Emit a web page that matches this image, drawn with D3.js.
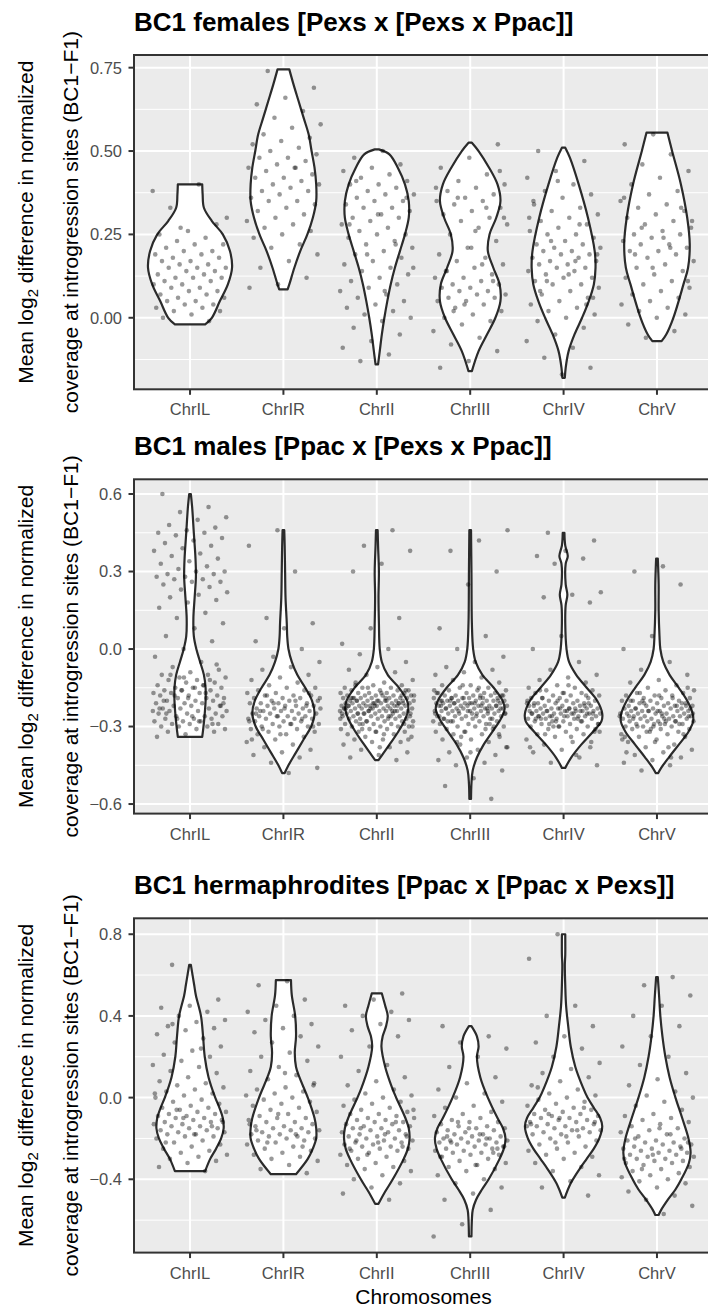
<!DOCTYPE html>
<html>
<head>
<meta charset="utf-8">
<script src="https://cdn.jsdelivr.net/npm/d3@7"></script>
<style>
  body { margin: 0; background: #fff; }
  svg { display: block; }
  text { font-family: "Liberation Sans", Arial, Helvetica, sans-serif; }
</style>
</head>
<body>
<svg id="chart" width="708" height="1309"></svg>
<script>
// ---- categories, titles and axis settings ----
const chromosomes = ["ChrIL", "ChrIR", "ChrII", "ChrIII", "ChrIV", "ChrV"];
const panelTitles = [
  "BC1 females [Pexs x [Pexs x Ppac]]",
  "BC1 males [Ppac x [Pexs x Ppac]]",
  "BC1 hermaphrodites [Ppac x [Ppac x Pexs]]"
];
const yLimits = [[-0.2145, 0.788], [-0.637, 0.657], [-0.759, 0.878]];
const yTicks = [[0, 0.25, 0.5, 0.75], [-0.6, -0.3, 0, 0.3, 0.6], [-0.4, 0, 0.4, 0.8]];
const yMinorTicks = [[-0.125, 0.125, 0.375, 0.625], [-0.45, -0.15, 0.15, 0.45], [-0.6, -0.2, 0.2, 0.6]];
const yTickFormats = [".2f", ".1f", ".1f"];
const xAxisTitle = "Chromosomes";

// ---- violin outlines: [value, relative half-width] from top to bottom ----
const femalesViolins = [
  [[0.40,0.29],[0.37,0.30],[0.33,0.33],[0.29,0.52],[0.25,0.78],[0.20,0.95],[0.15,1.0],[0.10,0.9],[0.05,0.71],[0.00,0.52],[-0.02,0.36]],
  [[0.745,0.14],[0.70,0.24],[0.65,0.36],[0.60,0.48],[0.55,0.6],[0.50,0.67],[0.45,0.74],[0.40,0.78],[0.35,0.78],[0.30,0.7],[0.25,0.57],[0.20,0.4],[0.15,0.26],[0.10,0.14],[0.085,0.1]],
  [[0.505,0.05],[0.49,0.3],[0.45,0.5],[0.40,0.67],[0.35,0.76],[0.30,0.76],[0.25,0.67],[0.20,0.55],[0.15,0.43],[0.10,0.33],[0.05,0.25],[0.0,0.18],[-0.05,0.12],[-0.10,0.07],[-0.14,0.03]],
  [[0.525,0.04],[0.50,0.2],[0.45,0.45],[0.40,0.65],[0.35,0.72],[0.30,0.62],[0.25,0.46],[0.20,0.42],[0.15,0.55],[0.10,0.7],[0.05,0.72],[0.0,0.6],[-0.05,0.4],[-0.10,0.2],[-0.16,0.04]],
  [[0.51,0.04],[0.48,0.15],[0.40,0.36],[0.30,0.58],[0.20,0.74],[0.15,0.76],[0.10,0.72],[0.05,0.6],[0.0,0.44],[-0.05,0.26],[-0.10,0.12],[-0.15,0.05],[-0.18,0.03]],
  [[0.555,0.25],[0.50,0.36],[0.40,0.57],[0.30,0.72],[0.22,0.78],[0.15,0.74],[0.10,0.63],[0.0,0.39],[-0.05,0.22],[-0.07,0.11]]
];
const malesViolins = [
  [[0.60,0.02],[0.55,0.05],[0.45,0.09],[0.35,0.13],[0.28,0.14],[0.20,0.11],[0.12,0.08],[0.05,0.09],[0.0,0.15],[-0.05,0.24],[-0.10,0.33],[-0.15,0.37],[-0.20,0.37],[-0.25,0.35],[-0.30,0.32],[-0.34,0.29]],
  [[0.46,0.02],[0.40,0.03],[0.30,0.04],[0.20,0.05],[0.10,0.08],[0.05,0.09],[0.0,0.12],[-0.05,0.2],[-0.10,0.33],[-0.15,0.52],[-0.20,0.68],[-0.25,0.74],[-0.30,0.66],[-0.35,0.48],[-0.40,0.3],[-0.45,0.12],[-0.48,0.03]],
  [[0.46,0.02],[0.40,0.03],[0.30,0.05],[0.20,0.04],[0.10,0.05],[0.0,0.07],[-0.05,0.12],[-0.10,0.26],[-0.15,0.53],[-0.20,0.72],[-0.23,0.75],[-0.27,0.68],[-0.32,0.51],[-0.37,0.3],[-0.40,0.17],[-0.43,0.04]],
  [[0.46,0.02],[0.30,0.03],[0.10,0.04],[0.0,0.07],[-0.05,0.13],[-0.10,0.29],[-0.15,0.56],[-0.20,0.77],[-0.23,0.82],[-0.27,0.73],[-0.32,0.53],[-0.37,0.32],[-0.42,0.16],[-0.47,0.06],[-0.52,0.03],[-0.58,0.02]],
  [[0.45,0.02],[0.40,0.04],[0.36,0.1],[0.33,0.05],[0.25,0.05],[0.21,0.09],[0.17,0.05],[0.10,0.04],[0.0,0.07],[-0.05,0.13],[-0.10,0.3],[-0.15,0.55],[-0.20,0.8],[-0.25,0.92],[-0.28,0.9],[-0.32,0.7],[-0.37,0.42],[-0.42,0.18],[-0.46,0.04]],
  [[0.35,0.02],[0.25,0.04],[0.15,0.04],[0.05,0.06],[0.0,0.08],[-0.05,0.15],[-0.10,0.3],[-0.15,0.52],[-0.20,0.72],[-0.25,0.85],[-0.28,0.86],[-0.32,0.75],[-0.37,0.52],[-0.42,0.28],[-0.46,0.1],[-0.48,0.03]]
];
const hermViolins = [
  [[0.65,0.02],[0.60,0.06],[0.55,0.1],[0.50,0.14],[0.40,0.26],[0.30,0.31],[0.20,0.35],[0.10,0.44],[0.0,0.6],[-0.05,0.7],[-0.10,0.78],[-0.15,0.8],[-0.20,0.74],[-0.25,0.62],[-0.30,0.48],[-0.36,0.36]],
  [[0.575,0.18],[0.50,0.2],[0.40,0.28],[0.30,0.3],[0.22,0.27],[0.15,0.3],[0.10,0.38],[0.0,0.58],[-0.10,0.74],[-0.15,0.78],[-0.20,0.78],[-0.25,0.7],[-0.30,0.58],[-0.375,0.3]],
  [[0.51,0.12],[0.45,0.2],[0.40,0.26],[0.35,0.22],[0.30,0.14],[0.25,0.11],[0.15,0.2],[0.05,0.36],[0.0,0.46],[-0.10,0.68],[-0.15,0.76],[-0.20,0.78],[-0.25,0.74],[-0.30,0.64],[-0.40,0.38],[-0.46,0.2],[-0.52,0.04]],
  [[0.35,0.03],[0.30,0.16],[0.25,0.2],[0.20,0.16],[0.10,0.24],[0.0,0.42],[-0.10,0.65],[-0.15,0.78],[-0.20,0.84],[-0.25,0.8],[-0.30,0.7],[-0.40,0.44],[-0.45,0.28],[-0.50,0.14],[-0.55,0.06],[-0.60,0.04],[-0.68,0.03]],
  [[0.80,0.04],[0.70,0.04],[0.65,0.03],[0.55,0.04],[0.45,0.06],[0.35,0.11],[0.25,0.17],[0.15,0.28],[0.05,0.46],[0.0,0.57],[-0.05,0.72],[-0.10,0.87],[-0.14,0.92],[-0.20,0.85],[-0.25,0.72],[-0.30,0.55],[-0.35,0.38],[-0.42,0.17],[-0.49,0.03]],
  [[0.59,0.02],[0.50,0.05],[0.40,0.08],[0.30,0.13],[0.20,0.2],[0.10,0.3],[0.0,0.44],[-0.10,0.6],[-0.20,0.75],[-0.27,0.8],[-0.32,0.76],[-0.40,0.58],[-0.45,0.44],[-0.50,0.26],[-0.55,0.1],[-0.575,0.04]]
];

// ---- per-site values (mean log2 coverage difference) ----
const femalesValues = [
  [0.38,0.40,0.33,0.28,0.26,0.25,0.24,0.23,0.22,0.22,0.21,0.20,0.20,0.19,0.19,0.18,0.18,0.17,0.17,0.16,0.16,0.15,0.15,0.15,0.14,0.14,0.13,0.13,0.12,0.12,0.12,0.11,0.11,0.10,0.10,0.09,0.09,0.08,0.08,0.07,0.07,0.06,0.06,0.05,0.05,0.04,0.04,0.03,0.03,0.02,0.02,0.01,0.00,-0.01,0.27,0.30],
  [0.74,0.69,0.66,0.64,0.62,0.60,0.58,0.57,0.55,0.54,0.53,0.52,0.51,0.50,0.49,0.48,0.48,0.47,0.46,0.45,0.45,0.44,0.43,0.42,0.42,0.41,0.40,0.40,0.39,0.38,0.38,0.37,0.36,0.35,0.35,0.34,0.33,0.32,0.31,0.30,0.29,0.28,0.27,0.26,0.25,0.24,0.22,0.21,0.19,0.17,0.15,0.12,0.10,0.09,0.45],
  [0.50,0.48,0.46,0.45,0.44,0.43,0.42,0.41,0.40,0.40,0.39,0.38,0.37,0.37,0.36,0.35,0.35,0.34,0.33,0.33,0.32,0.31,0.30,0.30,0.29,0.28,0.27,0.26,0.25,0.25,0.24,0.23,0.22,0.21,0.20,0.19,0.18,0.17,0.16,0.15,0.14,0.13,0.12,0.11,0.10,0.09,0.08,0.07,0.06,0.05,0.04,0.03,0.02,0.01,0.00,-0.01,-0.03,-0.05,-0.07,-0.09,-0.11,-0.13,0.36,0.31,0.28,0.22,0.19,0.15,0.08,0.41],
  [0.52,0.48,0.45,0.43,0.41,0.40,0.39,0.38,0.37,0.36,0.35,0.35,0.34,0.33,0.32,0.31,0.30,0.29,0.28,0.27,0.25,0.23,0.21,0.19,0.18,0.17,0.16,0.15,0.14,0.13,0.12,0.12,0.11,0.10,0.10,0.09,0.09,0.08,0.08,0.07,0.07,0.06,0.06,0.05,0.05,0.04,0.03,0.02,0.01,0.00,-0.01,-0.02,-0.04,-0.06,-0.08,-0.10,-0.13,-0.15,0.33,0.36,0.30,0.26,0.14,0.11,0.04,0.39,0.16,0.02,0.44,0.21],
  [0.50,0.47,0.44,0.42,0.40,0.38,0.37,0.36,0.34,0.33,0.32,0.31,0.30,0.29,0.28,0.27,0.26,0.25,0.25,0.24,0.23,0.22,0.22,0.21,0.21,0.20,0.20,0.19,0.19,0.18,0.18,0.17,0.17,0.16,0.16,0.15,0.15,0.14,0.14,0.13,0.12,0.12,0.11,0.10,0.10,0.09,0.08,0.07,0.06,0.05,0.04,0.03,0.02,0.01,0.00,-0.01,-0.03,-0.05,-0.07,-0.09,-0.12,-0.15,-0.17,0.35,0.28,0.23,0.19,0.13,0.08,0.04,0.41,0.30,0.17,0.11,0.06],
  [0.55,0.52,0.49,0.46,0.44,0.42,0.40,0.38,0.37,0.35,0.34,0.33,0.32,0.31,0.30,0.29,0.28,0.27,0.26,0.25,0.25,0.24,0.23,0.22,0.22,0.21,0.20,0.20,0.19,0.18,0.17,0.16,0.15,0.14,0.13,0.12,0.11,0.10,0.09,0.08,0.07,0.06,0.05,0.04,0.03,0.02,0.01,0.00,-0.02,-0.04,-0.06,0.29,0.24,0.19,0.33,0.15,0.36,0.21,0.27,0.11]
];
const malesValues = [
  [0.60,0.55,0.53,0.51,0.50,0.48,0.47,0.46,0.45,0.45,0.44,0.43,0.42,0.41,0.40,0.39,0.38,0.37,0.36,0.35,0.34,0.33,0.32,0.31,0.30,0.30,0.29,0.29,0.28,0.28,0.27,0.27,0.26,0.26,0.25,0.24,0.23,0.22,0.21,0.20,0.19,0.18,0.16,0.14,0.12,0.10,0.08,0.05,0.03,0.00,
   -0.03,-0.05,-0.07,-0.08,-0.09,-0.10,-0.10,-0.11,-0.11,-0.12,-0.12,-0.13,-0.13,-0.14,-0.14,-0.15,-0.15,-0.15,-0.16,-0.16,-0.16,-0.17,-0.17,-0.17,-0.18,-0.18,-0.18,-0.19,-0.19,-0.19,-0.20,-0.20,-0.20,-0.21,-0.21,-0.21,-0.22,-0.22,-0.22,-0.23,-0.23,-0.23,-0.24,-0.24,-0.24,-0.25,-0.25,-0.25,-0.26,-0.26,-0.26,-0.27,-0.27,-0.27,-0.28,-0.28,-0.28,-0.29,-0.29,-0.29,-0.30,-0.30,-0.30,-0.31,-0.31,-0.32,-0.32,-0.33,-0.34,-0.14,-0.18,-0.22,-0.26,-0.20,-0.12,-0.16,-0.24,-0.28,-0.10,-0.06,-0.19,-0.23,-0.17,-0.27,-0.21,-0.15,-0.25,-0.29,-0.11],
  [0.46,0.40,0.30,0.12,0.10,0.08,0.03,0.00,-0.03,-0.05,-0.07,-0.08,-0.10,-0.11,-0.12,-0.13,-0.14,-0.15,-0.15,-0.16,-0.16,-0.17,-0.17,-0.18,-0.18,-0.18,-0.19,-0.19,-0.19,-0.20,-0.20,-0.20,-0.21,-0.21,-0.21,-0.21,-0.22,-0.22,-0.22,-0.22,-0.23,-0.23,-0.23,-0.23,-0.24,-0.24,-0.24,-0.24,-0.25,-0.25,-0.25,-0.25,-0.26,-0.26,-0.26,-0.26,-0.27,-0.27,-0.27,-0.27,-0.28,-0.28,-0.28,-0.29,-0.29,-0.29,-0.30,-0.30,-0.30,-0.31,-0.31,-0.32,-0.32,-0.33,-0.33,-0.34,-0.35,-0.36,-0.37,-0.38,-0.39,-0.40,-0.41,-0.42,-0.44,-0.46,-0.48,-0.24,-0.22,-0.26,-0.28,-0.20,-0.18,-0.30,-0.23,-0.25,-0.27,-0.21,-0.19,-0.29,-0.31,-0.17,-0.33,-0.35],
  [0.46,0.40,0.38,0.33,0.30,0.12,0.08,0.02,0.00,-0.02,-0.05,-0.07,-0.08,-0.09,-0.10,
   -0.12,-0.13,-0.13,-0.14,-0.14,-0.15,-0.15,-0.15,-0.16,-0.16,-0.16,-0.16,-0.17,-0.17,-0.17,-0.17,-0.17,-0.18,-0.18,-0.18,-0.18,-0.18,-0.18,-0.19,-0.19,-0.19,-0.19,-0.19,-0.19,-0.19,-0.20,-0.20,-0.20,-0.20,-0.20,-0.20,-0.20,-0.20,-0.21,-0.21,-0.21,-0.21,-0.21,-0.21,-0.21,-0.21,-0.22,-0.22,-0.22,-0.22,-0.22,-0.22,-0.22,-0.22,-0.22,-0.23,-0.23,-0.23,-0.23,-0.23,-0.23,-0.23,-0.23,-0.24,-0.24,-0.24,-0.24,-0.24,-0.24,-0.24,-0.25,-0.25,-0.25,-0.25,-0.25,-0.25,-0.25,-0.26,-0.26,-0.26,-0.26,-0.26,-0.26,-0.27,-0.27,-0.27,-0.27,-0.27,-0.28,-0.28,-0.28,-0.28,-0.28,-0.29,-0.29,-0.29,-0.29,-0.30,-0.30,-0.30,-0.30,-0.31,-0.31,-0.31,-0.32,-0.32,-0.32,-0.33,-0.33,-0.34,-0.34,-0.35,-0.35,-0.36,-0.36,-0.37,-0.38,-0.39,-0.40,-0.41,-0.42,-0.43,
   -0.15,-0.18,-0.19,-0.20,-0.21,-0.22,-0.23,-0.24,-0.25,-0.26,-0.17,-0.19,-0.21,-0.23,-0.25,-0.27,-0.29,-0.16,-0.20,-0.22,-0.24,-0.28,-0.30,-0.33,-0.14,-0.18,-0.21,-0.23,-0.26,-0.31,-0.35,-0.38,-0.19,-0.22,-0.24,-0.27,-0.20,-0.25,-0.29,-0.32],
  [0.46,0.42,0.38,0.30,0.25,0.08,0.05,0.00,-0.03,-0.05,-0.07,-0.08,-0.09,-0.10,-0.11,
   -0.12,-0.13,-0.14,-0.14,-0.15,-0.15,-0.16,-0.16,-0.16,-0.17,-0.17,-0.17,-0.17,-0.18,-0.18,-0.18,-0.18,-0.18,-0.19,-0.19,-0.19,-0.19,-0.19,-0.19,-0.20,-0.20,-0.20,-0.20,-0.20,-0.20,-0.20,-0.21,-0.21,-0.21,-0.21,-0.21,-0.21,-0.21,-0.22,-0.22,-0.22,-0.22,-0.22,-0.22,-0.22,-0.22,-0.23,-0.23,-0.23,-0.23,-0.23,-0.23,-0.23,-0.24,-0.24,-0.24,-0.24,-0.24,-0.24,-0.25,-0.25,-0.25,-0.25,-0.25,-0.25,-0.26,-0.26,-0.26,-0.26,-0.26,-0.27,-0.27,-0.27,-0.27,-0.28,-0.28,-0.28,-0.28,-0.29,-0.29,-0.29,-0.30,-0.30,-0.30,-0.31,-0.31,-0.32,-0.32,-0.33,-0.33,-0.34,-0.35,-0.35,-0.36,-0.37,-0.38,-0.39,-0.40,-0.41,-0.42,-0.43,-0.44,-0.45,-0.47,-0.50,-0.53,-0.58,
   -0.14,-0.16,-0.18,-0.19,-0.20,-0.21,-0.22,-0.23,-0.24,-0.25,-0.26,-0.28,-0.30,-0.32,-0.17,-0.19,-0.21,-0.23,-0.25,-0.27,-0.29,-0.34,-0.38,-0.15,-0.20,-0.22,-0.24,-0.26,-0.31,-0.36,-0.18,-0.21,-0.23,-0.27,-0.19,-0.25,-0.22,-0.28,-0.33,-0.40,-0.20,-0.24],
  [0.45,0.42,0.38,0.36,0.35,0.33,0.22,0.21,0.20,0.18,0.05,0.00,-0.05,-0.08,-0.10,
   -0.11,-0.12,-0.13,-0.14,-0.15,-0.15,-0.16,-0.16,-0.17,-0.17,-0.17,-0.18,-0.18,-0.18,-0.19,-0.19,-0.19,-0.19,-0.20,-0.20,-0.20,-0.20,-0.21,-0.21,-0.21,-0.21,-0.21,-0.22,-0.22,-0.22,-0.22,-0.22,-0.23,-0.23,-0.23,-0.23,-0.23,-0.23,-0.24,-0.24,-0.24,-0.24,-0.24,-0.24,-0.24,-0.25,-0.25,-0.25,-0.25,-0.25,-0.25,-0.25,-0.26,-0.26,-0.26,-0.26,-0.26,-0.26,-0.27,-0.27,-0.27,-0.27,-0.27,-0.28,-0.28,-0.28,-0.28,-0.29,-0.29,-0.29,-0.30,-0.30,-0.30,-0.31,-0.31,-0.32,-0.32,-0.33,-0.33,-0.34,-0.35,-0.36,-0.37,-0.38,-0.39,-0.40,-0.42,-0.44,-0.45,
   -0.14,-0.16,-0.18,-0.20,-0.22,-0.23,-0.24,-0.25,-0.26,-0.27,-0.28,-0.30,-0.32,-0.34,-0.19,-0.21,-0.23,-0.25,-0.27,-0.29,-0.31,-0.24,-0.26,-0.22,-0.28,-0.20,-0.25,-0.33,-0.36,-0.17,-0.21,-0.24,-0.26,-0.29,-0.23,-0.27,-0.25,-0.30,-0.38,-0.41],
  [0.32,0.30,0.25,0.05,0.00,-0.05,-0.08,
   -0.10,-0.12,-0.13,-0.14,-0.15,-0.16,-0.16,-0.17,-0.17,-0.18,-0.18,-0.18,-0.19,-0.19,-0.19,-0.20,-0.20,-0.20,-0.20,-0.21,-0.21,-0.21,-0.21,-0.22,-0.22,-0.22,-0.22,-0.22,-0.23,-0.23,-0.23,-0.23,-0.23,-0.24,-0.24,-0.24,-0.24,-0.24,-0.24,-0.25,-0.25,-0.25,-0.25,-0.25,-0.25,-0.26,-0.26,-0.26,-0.26,-0.26,-0.26,-0.27,-0.27,-0.27,-0.27,-0.27,-0.28,-0.28,-0.28,-0.28,-0.28,-0.29,-0.29,-0.29,-0.29,-0.30,-0.30,-0.30,-0.31,-0.31,-0.31,-0.32,-0.32,-0.33,-0.33,-0.34,-0.34,-0.35,-0.36,-0.37,-0.38,-0.39,-0.40,-0.41,-0.42,-0.43,-0.44,-0.45,-0.47,
   -0.15,-0.18,-0.20,-0.22,-0.24,-0.26,-0.28,-0.30,-0.33,-0.36,-0.40,-0.19,-0.21,-0.23,-0.25,-0.27,-0.29,-0.31,-0.35,-0.38,-0.17,-0.22,-0.24,-0.26,-0.28,-0.32,-0.25,-0.27,-0.23,-0.21,-0.30,-0.34,-0.42,-0.20,-0.26,-0.29]
];
const hermValues = [
  [0.65,0.48,0.45,0.44,0.42,0.40,0.38,0.37,0.35,0.34,0.33,0.31,0.29,0.27,0.25,0.23,0.21,0.20,0.18,0.16,0.15,0.13,0.12,0.10,0.08,0.07,0.06,0.05,0.04,0.03,0.02,0.01,0.00,-0.01,-0.02,-0.03,-0.04,-0.05,-0.05,-0.06,-0.07,-0.07,-0.08,-0.08,-0.09,-0.09,-0.10,-0.10,-0.11,-0.11,-0.12,-0.12,-0.13,-0.13,-0.14,-0.14,-0.15,-0.15,-0.16,-0.16,-0.17,-0.17,-0.18,-0.18,-0.19,-0.19,-0.20,-0.21,-0.22,-0.23,-0.24,-0.25,-0.26,-0.27,-0.28,-0.29,-0.30,-0.31,-0.32,-0.34,-0.36,-0.06,-0.12,-0.18,-0.22,-0.14,-0.10,0.02,0.24,0.36],
  [0.57,0.55,0.48,0.45,0.42,0.40,0.38,0.36,0.34,0.32,0.30,0.27,0.25,0.22,0.20,0.18,0.15,0.13,0.11,0.09,0.07,0.05,0.04,0.03,0.02,0.01,0.00,-0.01,-0.02,-0.03,-0.04,-0.05,-0.06,-0.07,-0.08,-0.09,-0.10,-0.10,-0.11,-0.12,-0.12,-0.13,-0.14,-0.14,-0.15,-0.15,-0.16,-0.16,-0.17,-0.17,-0.18,-0.18,-0.19,-0.19,-0.20,-0.20,-0.21,-0.21,-0.22,-0.23,-0.24,-0.25,-0.26,-0.27,-0.28,-0.29,-0.30,-0.31,-0.33,-0.35,-0.37,-0.08,-0.13,-0.18,-0.22,0.06,0.12,-0.16,-0.24],
  [0.51,0.48,0.45,0.42,0.40,0.38,0.36,0.33,0.30,0.25,0.20,0.16,0.13,0.10,0.08,0.06,0.04,0.02,0.01,0.00,-0.01,-0.02,-0.03,-0.04,-0.05,-0.06,-0.07,-0.08,-0.08,-0.09,-0.10,-0.10,-0.11,-0.11,-0.12,-0.12,-0.13,-0.13,-0.14,-0.14,-0.15,-0.15,-0.16,-0.16,-0.17,-0.17,-0.18,-0.18,-0.19,-0.19,-0.20,-0.20,-0.21,-0.21,-0.22,-0.22,-0.23,-0.23,-0.24,-0.24,-0.25,-0.25,-0.26,-0.26,-0.27,-0.28,-0.29,-0.30,-0.31,-0.32,-0.33,-0.34,-0.35,-0.36,-0.38,-0.40,-0.42,-0.44,-0.47,-0.50,-0.15,-0.19,-0.22,-0.25,-0.12,-0.28,-0.06,-0.18,-0.21,-0.24],
  [0.35,0.30,0.27,0.24,0.20,0.15,0.10,0.07,0.04,0.02,0.00,-0.02,-0.04,-0.05,-0.07,-0.08,-0.09,-0.10,-0.11,-0.12,-0.12,-0.13,-0.14,-0.14,-0.15,-0.15,-0.16,-0.16,-0.17,-0.17,-0.18,-0.18,-0.19,-0.19,-0.20,-0.20,-0.20,-0.21,-0.21,-0.21,-0.22,-0.22,-0.22,-0.23,-0.23,-0.24,-0.24,-0.25,-0.25,-0.26,-0.26,-0.27,-0.27,-0.28,-0.28,-0.29,-0.30,-0.31,-0.32,-0.33,-0.34,-0.35,-0.36,-0.38,-0.40,-0.42,-0.44,-0.47,-0.50,-0.55,-0.62,-0.68,-0.18,-0.22,-0.25,-0.15,-0.29,-0.20,-0.12,-0.24,-0.33,-0.19,-0.27],
  [0.80,0.68,0.45,0.40,0.35,0.30,0.27,0.24,0.20,0.17,0.14,0.12,0.10,0.08,0.06,0.04,0.02,0.01,0.00,-0.01,-0.02,-0.03,-0.04,-0.05,-0.06,-0.06,-0.07,-0.08,-0.08,-0.09,-0.09,-0.10,-0.10,-0.11,-0.11,-0.12,-0.12,-0.13,-0.13,-0.14,-0.14,-0.15,-0.15,-0.16,-0.16,-0.17,-0.17,-0.18,-0.18,-0.19,-0.20,-0.21,-0.22,-0.23,-0.24,-0.25,-0.26,-0.27,-0.28,-0.29,-0.30,-0.32,-0.34,-0.36,-0.38,-0.41,-0.44,-0.48,-0.10,-0.13,-0.16,-0.08,-0.12,-0.19,0.05,-0.05,-0.22,-0.14],
  [0.59,0.55,0.50,0.45,0.40,0.35,0.30,0.25,0.20,0.16,0.12,0.09,0.06,0.03,0.01,0.00,-0.02,-0.04,-0.06,-0.08,-0.09,-0.10,-0.11,-0.12,-0.13,-0.14,-0.15,-0.16,-0.17,-0.18,-0.19,-0.20,-0.21,-0.21,-0.22,-0.22,-0.23,-0.23,-0.24,-0.24,-0.25,-0.25,-0.26,-0.26,-0.27,-0.27,-0.28,-0.28,-0.29,-0.29,-0.30,-0.30,-0.31,-0.31,-0.32,-0.32,-0.33,-0.34,-0.35,-0.36,-0.37,-0.38,-0.39,-0.40,-0.41,-0.42,-0.44,-0.46,-0.48,-0.50,-0.53,-0.57,-0.20,-0.25,-0.28,-0.30,-0.18,-0.35,-0.22,-0.15]
];

const panels = [
  { title: panelTitles[0], violins: femalesViolins, values: femalesValues },
  { title: panelTitles[1], violins: malesViolins, values: malesValues },
  { title: panelTitles[2], violins: hermViolins, values: hermValues }
];

// ---- layout ----
const panelLeft = 134, panelWidth = 579, panelHeight = 334.3;
const panelTops = [55, 479.3, 918.3];
const svg = d3.select("#chart");

const x = d3.scaleBand()
  .domain(chromosomes)
  .range([panelLeft, panelLeft + panelWidth])
  .paddingInner(0)
  .paddingOuter(0.1);
const step = x.step();
const cx = c => x(c) + x.bandwidth() / 2;
const halfWidth = d3.scaleLinear().domain([0, 1]).range([0, 0.45 * step]);

panels.forEach((p, k) => {
  const top = panelTops[k];
  const y = d3.scaleLinear().domain(yLimits[k]).range([top + panelHeight, top]);
  const g = svg.append("g");

  // title
  g.append("text")
    .attr("x", panelLeft)
    .attr("y", top - 24.5)
    .attr("font-size", 26)
    .attr("font-weight", "bold")
    .attr("fill", "#000")
    .text(p.title);

  // panel background
  g.append("rect")
    .attr("x", panelLeft).attr("y", top)
    .attr("width", panelWidth).attr("height", panelHeight)
    .attr("fill", "#EBEBEB");

  // grid
  g.selectAll(".minor").data(yMinorTicks[k]).join("line")
    .attr("x1", panelLeft).attr("x2", panelLeft + panelWidth)
    .attr("y1", d => y(d)).attr("y2", d => y(d))
    .attr("stroke", "#fff").attr("stroke-width", 1);
  g.selectAll(".majorY").data(yTicks[k]).join("line")
    .attr("x1", panelLeft).attr("x2", panelLeft + panelWidth)
    .attr("y1", d => y(d)).attr("y2", d => y(d))
    .attr("stroke", "#fff").attr("stroke-width", 2);
  g.selectAll(".majorX").data(chromosomes).join("line")
    .attr("x1", d => cx(d)).attr("x2", d => cx(d))
    .attr("y1", top).attr("y2", top + panelHeight)
    .attr("stroke", "#fff").attr("stroke-width", 2);

  // violins
  chromosomes.forEach((c, i) => {
    const area = d3.area()
      .y(d => y(d[0]))
      .x0(d => cx(c) - halfWidth(d[1]))
      .x1(d => cx(c) + halfWidth(d[1]))
      .curve(d3.curveCatmullRom.alpha(0.5));
    g.append("path")
      .datum(p.violins[i])
      .attr("d", area)
      .attr("fill", "#fff")
      .attr("stroke", "#2b2b2b")
      .attr("stroke-width", 2.2)
      .attr("stroke-linejoin", "round");
  });

  // jittered points (golden-ratio spread across ±0.4 of a category step)
  chromosomes.forEach((c, i) => {
    g.append("g").selectAll("circle").data(p.values[i]).join("circle")
      .attr("cx", (d, j) => cx(c) + (((j * 0.6180339887 + i * 0.29 + k * 0.13) % 1) - 0.5) * 0.8 * step)
      .attr("cy", d => y(d))
      .attr("r", 2.3)
      .attr("fill", "#000")
      .attr("fill-opacity", 0.4);
  });

  // border
  g.append("rect")
    .attr("x", panelLeft).attr("y", top)
    .attr("width", panelWidth).attr("height", panelHeight)
    .attr("fill", "none").attr("stroke", "#333").attr("stroke-width", 2);

  // y axis
  const fmt = d3.format(yTickFormats[k]);
  g.selectAll(".yt").data(yTicks[k]).join("line")
    .attr("x1", panelLeft - 5.5).attr("x2", panelLeft)
    .attr("y1", d => y(d)).attr("y2", d => y(d))
    .attr("stroke", "#333").attr("stroke-width", 2);
  g.selectAll(".yl").data(yTicks[k]).join("text")
    .attr("x", panelLeft - 12).attr("y", d => y(d))
    .attr("dy", "0.36em")
    .attr("text-anchor", "end")
    .attr("font-size", 16.5)
    .attr("fill", "#4D4D4D")
    .text(d => fmt(d));

  // x axis
  g.selectAll(".xt").data(chromosomes).join("line")
    .attr("x1", d => cx(d)).attr("x2", d => cx(d))
    .attr("y1", top + panelHeight).attr("y2", top + panelHeight + 5.5)
    .attr("stroke", "#333").attr("stroke-width", 2);
  g.selectAll(".xl").data(chromosomes).join("text")
    .attr("x", d => cx(d)).attr("y", top + panelHeight + 26)
    .attr("text-anchor", "middle")
    .attr("font-size", 16.5)
    .attr("fill", "#4D4D4D")
    .text(d => d);

  // y axis title (two lines)
  const cy = top + panelHeight / 2;
  const t1 = g.append("text")
    .attr("transform", `translate(33,${cy}) rotate(-90)`)
    .attr("text-anchor", "middle")
    .attr("font-size", 21)
    .attr("fill", "#000");
  t1.append("tspan").text("Mean log");
  t1.append("tspan").attr("font-size", 15).attr("dy", 5).text("2");
  t1.append("tspan").attr("dy", -5).text(" difference in normalized");
  g.append("text")
    .attr("transform", `translate(78,${cy}) rotate(-90)`)
    .attr("text-anchor", "middle")
    .attr("font-size", 21)
    .attr("fill", "#000")
    .text("coverage at introgression sites (BC1\u2212F1)");
});

// x axis title
svg.append("text")
  .attr("x", panelLeft + panelWidth / 2)
  .attr("y", 1304)
  .attr("text-anchor", "middle")
  .attr("font-size", 21)
  .attr("fill", "#000")
  .text(xAxisTitle);
</script>
</body>
</html>
